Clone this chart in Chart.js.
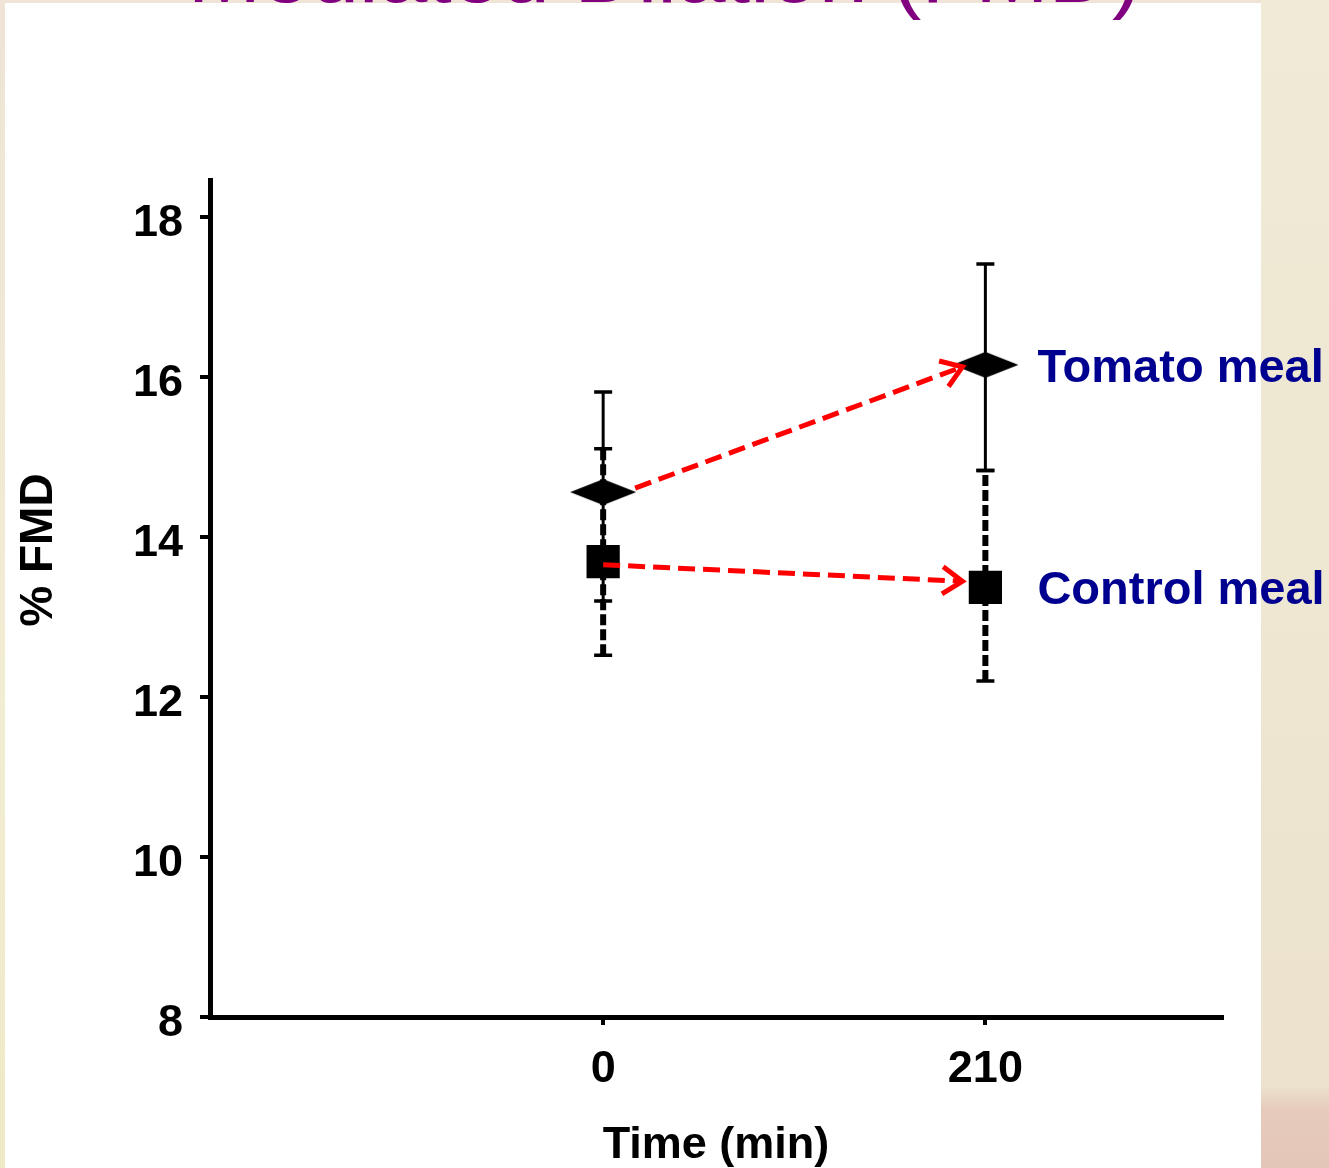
<!DOCTYPE html>
<html>
<head>
<meta charset="utf-8">
<script src="https://cdn.jsdelivr.net/npm/chart.js@4.4.1/dist/chart.umd.min.js"></script>
<style>
  html, body { margin: 0; padding: 0; }
  body {
    width: 1329px; height: 1168px; overflow: hidden; position: relative;
    background: linear-gradient(to bottom, #efe4d6 0%, #f1edd2 60%, #efe9c6 100%);
  }
  #rightStrip {
    position: absolute; left: 1261px; top: 0; width: 68px; height: 1168px;
    background: linear-gradient(to bottom, #efebd6 0%, #eee7d1 50%, #ece2ce 93%, #e6cbbb 95%, #e4c6b8 100%);
  }
  #panel {
    position: absolute; left: 5px; top: 3px; width: 1256px; height: 1165px; background: #ffffff;
  }
  #slideTitle {
    position: absolute; left: 0; width: 1329px; top: -78px; text-align: center;
    font-family: Arial, 'Liberation Sans', sans-serif; font-size: 88px; color: #800080;
    line-height: 100px; white-space: nowrap; z-index: 2;
  }
  #chartBox { position: absolute; left: 0; top: 0; width: 1329px; height: 1168px; z-index: 1; }
</style>
</head>
<body>
<div id="rightStrip"></div>
<div id="panel"></div>
<div id="slideTitle">Mediated Dilation (FMD)</div>
<div id="chartBox"><canvas id="fmd-chart" width="1329" height="1168"></canvas></div>
<script>
const timePoints = [0, 210];
const xTicks = [0, 210];
const yTicks = [8, 10, 12, 14, 16, 18];

const tomatoMean = [14.56, 16.15];
const tomatoHigh = [15.81, 17.41];
const tomatoLow = [13.20, 14.83];

const controlMean = [13.69, 13.37];
const controlHigh = [15.10, 14.83];
const controlLow = [12.52, 12.20];

const seriesNames = ['Tomato meal', 'Control meal'];

const FONT = "Arial, 'Liberation Sans', Helvetica, sans-serif";

document.addEventListener('DOMContentLoaded', function(){
    const canva = document.getElementById('fmd-chart');

    // wide flat diamond marker for the tomato series
    const diamond = document.createElement('canvas');
    diamond.width = 66;
    diamond.height = 26;
    const dctx = diamond.getContext('2d');
    dctx.fillStyle = '#000';
    dctx.beginPath();
    dctx.moveTo(0, 13);
    dctx.lineTo(33, 0);
    dctx.lineTo(66, 13);
    dctx.lineTo(33, 26);
    dctx.closePath();
    dctx.fill();

    const errorBars = {
        id: 'errorBars',
        beforeDatasetsDraw(chart) {
            const ctx = chart.ctx;
            const xs = chart.scales.x;
            const ys = chart.scales.y;
            const groups = [
                {low: tomatoLow, high: tomatoHigh, width: 3, dash: []},
                {low: controlLow, high: controlHigh, width: 6, dash: [11, 4]}
            ];
            ctx.save();
            ctx.strokeStyle = '#000';
            groups.forEach(g => {
                timePoints.forEach((t, i) => {
                    const x = xs.getPixelForValue(t);
                    const yl = ys.getPixelForValue(g.low[i]);
                    const yh = ys.getPixelForValue(g.high[i]);
                    ctx.lineWidth = g.width;
                    ctx.setLineDash(g.dash);
                    ctx.beginPath();
                    ctx.moveTo(x, yl);
                    ctx.lineTo(x, yh);
                    ctx.stroke();
                    ctx.setLineDash([]);
                    ctx.lineWidth = 3.5;
                    ctx.beginPath();
                    ctx.moveTo(x - 9, yl); ctx.lineTo(x + 9, yl);
                    ctx.moveTo(x - 9, yh); ctx.lineTo(x + 9, yh);
                    ctx.stroke();
                });
            });
            ctx.restore();
        }
    };

    function arrow(ctx, x1, y1, x2, y2) {
        ctx.setLineDash([17, 8]);
        ctx.beginPath();
        ctx.moveTo(x1, y1);
        ctx.lineTo(x2, y2);
        ctx.stroke();
        ctx.setLineDash([]);
        const a = Math.atan2(y2 - y1, x2 - x1);
        const len = 24;
        ctx.beginPath();
        ctx.moveTo(x2 - len * Math.cos(a - 0.6), y2 - len * Math.sin(a - 0.6));
        ctx.lineTo(x2, y2);
        ctx.lineTo(x2 - len * Math.cos(a + 0.6), y2 - len * Math.sin(a + 0.6));
        ctx.stroke();
    }

    const annotations = {
        id: 'annotations',
        afterDatasetsDraw(chart) {
            const ctx = chart.ctx;
            const xs = chart.scales.x;
            const ys = chart.scales.y;
            const x0 = xs.getPixelForValue(timePoints[0]);
            const x1 = xs.getPixelForValue(timePoints[1]);
            ctx.save();
            ctx.strokeStyle = '#ff0000';
            ctx.lineWidth = 5;
            ctx.lineCap = 'butt';
            ctx.lineJoin = 'miter';
            arrow(ctx, x0 + 32, ys.getPixelForValue(tomatoMean[0]) - 4, x1 - 23, ys.getPixelForValue(tomatoMean[1]) + 2);
            arrow(ctx, x0, ys.getPixelForValue(controlMean[0]) + 3, x1 - 23, ys.getPixelForValue(controlMean[1]) - 6);

            ctx.fillStyle = '#000090';
            ctx.font = 'bold 47px ' + FONT;
            ctx.textAlign = 'left';
            ctx.textBaseline = 'middle';
            ctx.fillText(seriesNames[0], x1 + 52, ys.getPixelForValue(tomatoMean[1]) + 4);
            ctx.fillText(seriesNames[1], x1 + 52, ys.getPixelForValue(controlMean[1]) + 4);

            // y axis title
            ctx.fillStyle = '#000';
            ctx.font = 'bold 46px ' + FONT;
            ctx.translate(39, 550);
            ctx.rotate(-Math.PI / 2);
            ctx.textAlign = 'center';
            ctx.fillText('% FMD', 0, 0);
            ctx.restore();
        }
    };

    new Chart(canva.getContext('2d'), {
        type: 'line',
        data: {
            datasets: [{
                label: seriesNames[0],
                data: timePoints.map((t, i) => ({x: t, y: tomatoMean[i]})),
                showLine: false,
                pointStyle: diamond,
                backgroundColor: '#000',
                borderColor: '#000'
            }, {
                label: seriesNames[1],
                data: timePoints.map((t, i) => ({x: t, y: controlMean[i]})),
                showLine: false,
                pointStyle: 'rect',
                pointRadius: 23.5,
                pointBorderWidth: 0,
                backgroundColor: '#000',
                borderColor: '#000'
            }]
        },
        options: {
            responsive: false,
            devicePixelRatio: 1,
            animation: false,
            layout: { padding: { left: 0, top: 180, right: 107, bottom: 0 } },
            plugins: {
                legend: { display: false },
                tooltip: { enabled: false }
            },
            scales: {
                x: {
                    type: 'linear',
                    min: -216,
                    max: 340,
                    afterBuildTicks: scale => { scale.ticks = xTicks.map(v => ({value: v})); },
                    afterFit: scale => { scale.height = 151; },
                    grid: { drawOnChartArea: false, drawTicks: true, tickLength: 8, lineWidth: 4, color: '#000' },
                    border: { display: true, width: 5, color: '#000' },
                    ticks: { color: '#000', padding: 18, font: { family: FONT, size: 45, weight: 'bold' } },
                    title: {
                        display: true,
                        text: 'Time (min)',
                        color: '#000',
                        padding: { top: 0, bottom: 0 },
                        font: { family: FONT, size: 45, weight: 'bold', lineHeight: 1.0 }
                    }
                },
                y: {
                    min: 8,
                    max: 18.46,
                    afterBuildTicks: scale => { scale.ticks = yTicks.map(v => ({value: v})); },
                    afterFit: scale => { scale.width = 210; },
                    grid: { drawOnChartArea: false, drawTicks: true, tickLength: 10, lineWidth: 4, color: '#000' },
                    border: { display: true, width: 5, color: '#000' },
                    ticks: { color: '#000', padding: 17, labelOffset: 7, font: { family: FONT, size: 45, weight: 'bold' } }
                }
            }
        },
        plugins: [errorBars, annotations]
    });
});
</script>
</body>
</html>
